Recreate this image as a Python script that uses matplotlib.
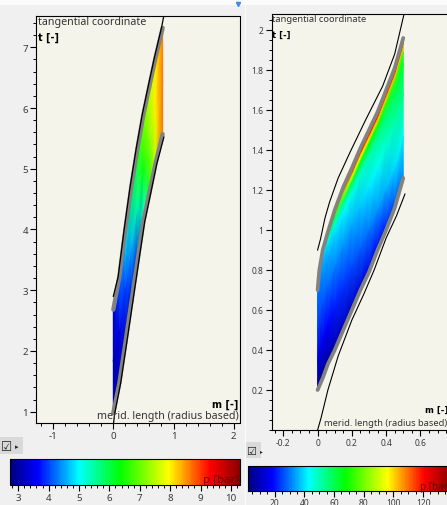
import numpy as np
import matplotlib.pyplot as plt
from matplotlib.colors import LinearSegmentedColormap
from matplotlib.ticker import MultipleLocator, FormatStrFormatter
from matplotlib.patches import Rectangle
from matplotlib.lines import Line2D

plt.rcParams['font.family'] = ['Noto Sans', 'DejaVu Sans']
plt.rcParams['axes.unicode_minus'] = False

# ---------------- left blade row ----------------
m_left = [0.0, 0.1, 0.2, 0.3, 0.4, 0.5, 0.6, 0.7, 0.82]
t_left_lo = [0.98, 1.47, 2.13, 2.80, 3.47, 4.13, 4.60, 5.08, 5.57]
t_left_up = [2.68, 3.22, 4.00, 4.71, 5.33, 5.89, 6.36, 6.82, 7.32]
span_left = [0.0, 0.5, 1.0]
p_left = [
    [3.00, 3.05, 3.20],
    [3.10, 3.50, 4.10],
    [3.30, 4.00, 5.00],
    [3.50, 4.60, 5.90],
    [3.90, 5.50, 6.60],
    [5.00, 6.40, 7.20],
    [6.40, 7.20, 7.60],
    [7.60, 8.00, 8.00],
    [8.70, 8.70, 8.60],
]
blk_left_up_m = [0.0, 0.02, 0.08, 0.18, 0.28, 0.38, 0.48, 0.58, 0.68, 0.80, 0.845]
blk_left_up_t = [2.90, 2.98, 3.22, 4.00, 4.71, 5.33, 5.89, 6.36, 6.82, 7.32, 7.55]
blk_left_lo_m = [0.0, 0.025, 0.122, 0.222, 0.322, 0.422, 0.522, 0.622, 0.722, 0.84]
blk_left_lo_t = [0.78, 0.98, 1.47, 2.13, 2.80, 3.47, 4.13, 4.60, 5.08, 5.52]
cbar_left_ticks = [3, 4, 5, 6, 7, 8, 9, 10]

# ---------------- right blade row ----------------
m_right = [0.0, 0.01, 0.03, 0.06, 0.1, 0.15, 0.2, 0.25, 0.3, 0.35, 0.4, 0.45, 0.5]
t_right_lo = [0.20, 0.22, 0.26, 0.33, 0.40, 0.50, 0.60, 0.70, 0.79, 0.90, 1.00, 1.11, 1.26]
t_right_up = [0.70, 0.80, 0.90, 0.99, 1.10, 1.215, 1.31, 1.41, 1.50, 1.59, 1.70, 1.81, 1.96]
span_right = [0.0, 0.3, 0.6, 0.82, 0.9, 0.94, 0.97, 1.0]
p_right = [
    [4, 15, 24, 27, 28, 29, 30, 31],
    [4, 15, 25, 29, 30, 31, 33, 34],
    [5, 17, 27, 32, 34, 37, 39, 41],
    [6, 19, 29, 35, 39, 46, 53, 58],
    [8, 21, 31, 39, 46, 61, 75, 85],
    [10, 23, 33, 42, 56, 80, 105, 112],
    [12, 25, 35, 45, 62, 92, 115, 120],
    [14, 28, 38, 48, 65, 96, 118, 122],
    [16, 30, 41, 51, 67, 98, 120, 124],
    [18, 33, 44, 54, 69, 100, 121, 124],
    [21, 36, 47, 57, 71, 101, 122, 125],
    [25, 40, 51, 60, 73, 102, 122, 125],
    [31, 45, 55, 64, 75, 102, 120, 122],
]
blk_right_up_m = [0.0, 0.017, 0.043, 0.07, 0.12, 0.19, 0.28, 0.38, 0.45, 0.51]
blk_right_up_t = [0.90, 0.955, 1.06, 1.14, 1.26, 1.39, 1.55, 1.72, 1.88, 2.10]
blk_right_lo_m = [0.0, 0.02, 0.06, 0.12, 0.2, 0.27, 0.33, 0.4, 0.46, 0.51]
blk_right_lo_t = [0.0, 0.06, 0.2, 0.37, 0.55, 0.68, 0.80, 0.96, 1.07, 1.18]
cbar_right_ticks = [20, 40, 60, 80, 100, 120]

cmap = LinearSegmentedColormap.from_list('p', [
    (0.00, (0.0, 0.0, 0.5)),
    (0.12, (0.0, 0.0, 1.0)),
    (0.30, (0.0, 1.0, 1.0)),
    (0.48, (0.0, 1.0, 0.0)),
    (0.69, (1.0, 1.0, 0.0)),
    (0.87, (1.0, 0.0, 0.0)),
    (1.00, (0.55, 0.0, 0.0)),
])

W, H = 447, 506
fig = plt.figure(figsize=(W / 100, H / 100), dpi=100, facecolor='#f0f0f0')


def box(x0, y0, x1, y1):
    return [x0 / W, 1 - y1 / H, (x1 - x0) / W, (y1 - y0) / H]


def ftext(x, y, s, **kw):
    fig.text(x / W, 1 - y / H, s, **kw)


def passage(ax, m, t_lo, t_up, span, p, vmin, vmax):
    m = np.asarray(m)
    t_lo = np.asarray(t_lo)
    t_up = np.asarray(t_up)
    s = np.asarray(span)
    M = np.repeat(m[:, None], len(s), axis=1)
    T = t_lo[:, None] + s[None, :] * (t_up - t_lo)[:, None]
    return ax.pcolormesh(M, T, np.asarray(p, float), shading='gouraud',
                         cmap=cmap, vmin=vmin, vmax=vmax, zorder=1)


def style(ax, fs, xmaj, xmin, ymin):
    ax.set_facecolor('#f5f4eb')
    for sp in ax.spines.values():
        sp.set_linewidth(0.8)
    ax.xaxis.set_major_locator(MultipleLocator(xmaj))
    ax.xaxis.set_minor_locator(MultipleLocator(xmin))
    ax.yaxis.set_minor_locator(MultipleLocator(ymin))
    ax.xaxis.set_major_formatter(FormatStrFormatter('%g'))
    ax.yaxis.set_major_formatter(FormatStrFormatter('%g'))
    ax.tick_params(which='major', length=4, width=0.8, labelsize=fs,
                   labelcolor='#3a3a3a', pad=2)
    ax.tick_params(which='minor', length=2.2, width=0.7)


# ---------- left panel ----------
axL = fig.add_axes(box(36.3, 17.3, 239.5, 424))
meshL = passage(axL, m_left, t_left_lo, t_left_up, span_left, p_left, 2.73, 10.3)
axL.plot(m_left, t_left_up, color='#828282', lw=3.1, solid_capstyle='round', zorder=2)
axL.plot(m_left, t_left_lo, color='#828282', lw=3.1, solid_capstyle='round', zorder=2)
axL.plot(blk_left_up_m, blk_left_up_t, color='black', lw=0.9, zorder=3)
axL.plot(blk_left_lo_m, blk_left_lo_t, color='black', lw=0.9, zorder=3)
axL.set_xlim(-1.279, 2.096)
axL.set_ylim(0.814, 7.51)
style(axL, 7, 1, 0.2, 0.2)
axL.yaxis.set_major_locator(MultipleLocator(1))

ftext(37.5, 17.3, 'tangential coordinate', fontsize=7.7, color='#333333', va='top')
ftext(37.5, 32.5, 't [-]', fontsize=7, fontweight='bold', family='DejaVu Sans', va='top')
ftext(238.5, 408, 'm [-]', fontsize=7, fontweight='bold', family='DejaVu Sans',
      ha='right', va='baseline')
ftext(238.5, 419.5, 'merid. length (radius based)', fontsize=7.7, color='#333333',
      ha='right', va='baseline')

caxL = fig.add_axes(box(10, 460, 240, 485.7))
cbL = fig.colorbar(meshL, cax=caxL, orientation='horizontal')
cbL.set_ticks(cbar_left_ticks)
cbL.ax.xaxis.set_minor_locator(MultipleLocator(0.2))
cbL.outline.set_linewidth(0.8)
cbL.ax.tick_params(which='major', length=4, width=0.8, labelsize=7, labelcolor='#3a3a3a', pad=2)
cbL.ax.tick_params(which='minor', length=2.2, width=0.7)
ftext(239, 483.5, 'p [bar]', fontsize=8.3, color='#4a0a05', alpha=0.75,
      ha='right', va='baseline')

# ---------- right panel ----------
axR = fig.add_axes(box(271.7, 15.3, 449, 431))
meshR = passage(axR, m_right, t_right_lo, t_right_up, span_right, p_right, 2.0, 138.5)
axR.plot(m_right, t_right_up, color='#828282', lw=2.7, solid_capstyle='round', zorder=2)
axR.plot(m_right, t_right_lo, color='#828282', lw=2.7, solid_capstyle='round', zorder=2)
axR.plot(blk_right_up_m, blk_right_up_t, color='black', lw=0.8, zorder=3)
axR.plot(blk_right_lo_m, blk_right_lo_t, color='black', lw=0.8, zorder=3)
axR.set_xlim(-0.268, 0.767)
axR.set_ylim(0.0, 2.0785)
style(axR, 6.1, 0.2, 0.05, 0.05)
axR.set_yticks([0.2, 0.4, 0.6, 0.8, 1.0, 1.2, 1.4, 1.6, 1.8, 2.0])

ftext(272.5, 15.3, 'tangential coordinate', fontsize=6.7, color='#333333', va='top')
ftext(272.5, 30.5, 't [-]', fontsize=6.1, fontweight='bold', family='DejaVu Sans', va='top')
ftext(447.8, 413, 'm [-]', fontsize=6.1, fontweight='bold', family='DejaVu Sans',
      ha='right', va='baseline')
ftext(447.5, 426, 'merid. length (radius based)', fontsize=6.7, color='#333333',
      ha='right', va='baseline')

caxR = fig.add_axes(box(248, 466.7, 450.5, 492.3))
cbR = fig.colorbar(meshR, cax=caxR, orientation='horizontal')
cbR.set_ticks(cbar_right_ticks)
cbR.ax.xaxis.set_minor_locator(MultipleLocator(5))
cbR.outline.set_linewidth(0.8)
cbR.ax.tick_params(which='major', length=4, width=0.8, labelsize=6.1, labelcolor='#3a3a3a', pad=1)
cbR.ax.tick_params(which='minor', length=2.2, width=0.7)
ftext(451, 490, 'p [bar]', fontsize=7.2, color='#4a0a05', alpha=0.75,
      ha='right', va='baseline')

# ---------- window decoration ----------
fig.patches.append(Rectangle((0, 1 - 6 / H), 1, 6 / H, transform=fig.transFigure,
                             facecolor='#fbfbfb', edgecolor='none', zorder=0))
fig.add_artist(Line2D([245.5 / W, 245.5 / W], [0, 1 - 6 / H], color='#fafafa', lw=1))
fig.add_artist(Line2D([237.7 / W], [1 - 5 / H], marker='v', markersize=3,
                      color='#3d8de0', lw=0))
for (x0, y0, x1, y1, fs) in [(0, 438, 23, 455, 9), (245, 442.7, 261, 459.3, 8)]:
    fig.patches.append(Rectangle((x0 / W, 1 - y1 / H), (x1 - x0) / W, (y1 - y0) / H,
                                 transform=fig.transFigure, facecolor='#d9d9d9',
                                 edgecolor='none'))
    ftext(x0 + 1, (y0 + y1) / 2 + 0.5, '\u2611', fontsize=fs, family='DejaVu Sans',
          va='center', color='#222222')
    ftext(x0 + 14.5, (y0 + y1) / 2 + 0.5, '\u25b8', fontsize=fs - 4, family='DejaVu Sans',
          va='center', color='#222222')

fig.savefig('out.png', dpi=100, facecolor=fig.get_facecolor())
